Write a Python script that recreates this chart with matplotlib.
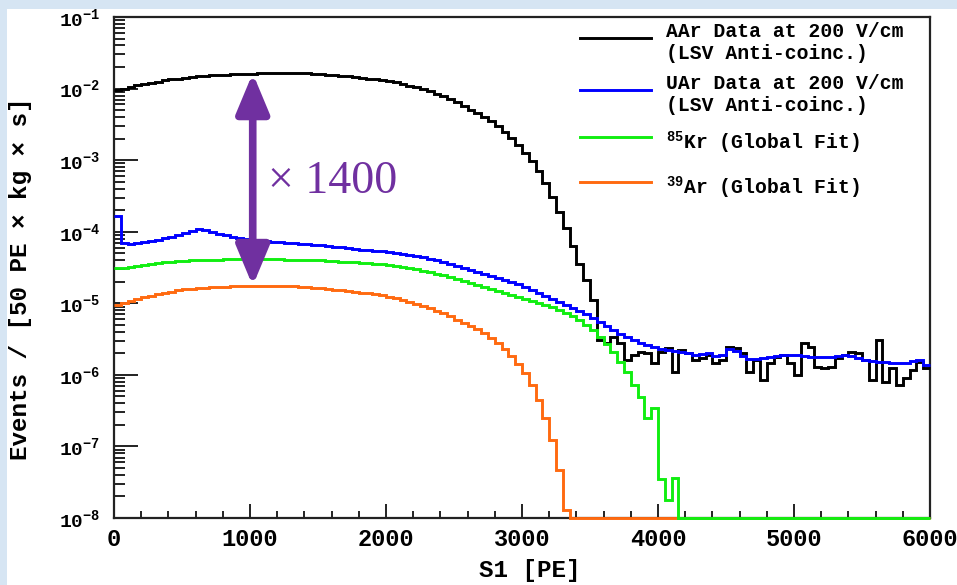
import numpy as np
import matplotlib
matplotlib.use("Agg")
import matplotlib.pyplot as plt
from matplotlib.ticker import MultipleLocator, FixedLocator, FuncFormatter, NullFormatter
from matplotlib.patches import Rectangle, FancyArrowPatch
from matplotlib.font_manager import FontProperties

# ---------------- data (events / [50 PE x kg x s], 50 PE bins from 0 to 6000) -------------
bin_edges_pe = np.arange(0, 6001, 50)

aar_data = [
    9.56e-3, 1.00e-2, 1.05e-2, 1.11e-2, 1.16e-2, 1.20e-2, 1.25e-2, 1.30e-2, 1.34e-2, 1.38e-2,
    1.42e-2, 1.45e-2, 1.49e-2, 1.51e-2, 1.54e-2, 1.56e-2, 1.57e-2, 1.58e-2, 1.60e-2, 1.61e-2,
    1.62e-2, 1.63e-2, 1.63e-2, 1.64e-2, 1.64e-2, 1.64e-2, 1.64e-2, 1.63e-2, 1.63e-2, 1.61e-2,
    1.59e-2, 1.56e-2, 1.54e-2, 1.51e-2, 1.48e-2, 1.45e-2, 1.42e-2, 1.38e-2, 1.35e-2, 1.31e-2,
    1.27e-2, 1.22e-2, 1.16e-2, 1.10e-2, 1.04e-2, 9.71e-3, 9.11e-3, 8.40e-3, 7.76e-3, 7.04e-3,
    6.39e-3, 5.71e-3, 5.10e-3, 4.56e-3, 4.01e-3, 3.47e-3, 2.96e-3, 2.48e-3, 2.04e-3, 1.63e-3,
    1.26e-3, 9.74e-4, 7.07e-4, 4.80e-4, 3.06e-4, 1.89e-4, 1.13e-4, 6.33e-5, 3.55e-5, 2.12e-5,
    1.12e-5, 3.08e-6, 2.80e-6, 3.40e-6, 2.80e-6, 1.62e-6, 1.90e-6, 2.10e-6, 2.03e-6, 1.47e-6,
    2.10e-6, 2.38e-6, 1.10e-6, 2.23e-6, 2.03e-6, 1.62e-6, 1.73e-6, 1.90e-6, 1.47e-6, 1.62e-6,
    2.46e-6, 2.38e-6, 2.03e-6, 1.10e-6, 1.62e-6, 8.51e-7, 1.47e-6, 1.78e-6, 1.90e-6, 1.47e-6,
    1.00e-6, 2.80e-6, 2.46e-6, 1.29e-6, 1.25e-6, 1.29e-6, 1.73e-6, 1.90e-6, 2.10e-6, 2.03e-6,
    1.62e-6, 8.51e-7, 3.08e-6, 7.98e-7, 1.25e-6, 7.25e-7, 9.08e-7, 1.17e-6, 1.52e-6, 1.25e-6,
]

uar_data = [
    1.66e-4, 6.98e-5, 6.76e-5, 6.98e-5, 7.20e-5, 7.44e-5, 7.68e-5, 8.06e-5, 8.46e-5, 9.02e-5,
    9.62e-5, 1.03e-4, 1.09e-4, 1.04e-4, 9.78e-5, 9.32e-5, 8.88e-5, 8.46e-5, 8.20e-5, 7.94e-5,
    7.68e-5, 7.44e-5, 7.32e-5, 7.20e-5, 7.09e-5, 6.98e-5, 6.87e-5, 6.76e-5, 6.65e-5, 6.54e-5,
    6.44e-5, 6.23e-5, 6.13e-5, 6.04e-5, 5.94e-5, 5.75e-5, 5.57e-5, 5.48e-5, 5.39e-5, 5.31e-5,
    5.14e-5, 5.06e-5, 4.90e-5, 4.74e-5, 4.59e-5, 4.38e-5, 4.17e-5, 3.97e-5, 3.79e-5, 3.55e-5,
    3.33e-5, 3.12e-5, 2.93e-5, 2.74e-5, 2.57e-5, 2.41e-5, 2.26e-5, 2.12e-5, 1.99e-5, 1.87e-5,
    1.69e-5, 1.54e-5, 1.40e-5, 1.27e-5, 1.15e-5, 1.05e-5, 9.50e-6, 8.63e-6, 7.83e-6, 7.11e-6,
    6.25e-6, 5.50e-6, 4.84e-6, 4.25e-6, 3.74e-6, 3.40e-6, 3.08e-6, 2.80e-6, 2.62e-6, 2.46e-6,
    2.31e-6, 2.23e-6, 2.16e-6, 2.10e-6, 2.03e-6, 1.90e-6, 1.96e-6, 2.03e-6, 1.84e-6, 1.90e-6,
    2.31e-6, 2.16e-6, 1.84e-6, 1.67e-6, 1.67e-6, 1.73e-6, 1.78e-6, 1.84e-6, 1.90e-6, 1.90e-6,
    1.90e-6, 1.84e-6, 1.78e-6, 1.78e-6, 1.78e-6, 1.78e-6, 1.84e-6, 1.90e-6, 1.84e-6, 1.73e-6,
    1.62e-6, 1.57e-6, 1.52e-6, 1.52e-6, 1.47e-6, 1.47e-6, 1.47e-6, 1.57e-6, 1.62e-6, 1.38e-6,
]

kr85_fit = [
    3.12e-5, 3.12e-5, 3.22e-5, 3.33e-5, 3.44e-5, 3.55e-5, 3.67e-5, 3.73e-5, 3.79e-5, 3.85e-5,
    3.91e-5, 3.97e-5, 4.04e-5, 4.04e-5, 4.04e-5, 4.04e-5, 4.10e-5, 4.10e-5, 4.10e-5, 4.10e-5,
    4.10e-5, 4.10e-5, 4.10e-5, 4.10e-5, 4.10e-5, 4.04e-5, 4.04e-5, 4.04e-5, 4.04e-5, 3.97e-5,
    3.97e-5, 3.91e-5, 3.85e-5, 3.79e-5, 3.79e-5, 3.73e-5, 3.67e-5, 3.61e-5, 3.55e-5, 3.49e-5,
    3.38e-5, 3.28e-5, 3.17e-5, 3.07e-5, 2.98e-5, 2.83e-5, 2.70e-5, 2.57e-5, 2.45e-5, 2.34e-5,
    2.19e-5, 2.06e-5, 1.93e-5, 1.81e-5, 1.69e-5, 1.59e-5, 1.49e-5, 1.40e-5, 1.31e-5, 1.23e-5,
    1.15e-5, 1.08e-5, 1.01e-5, 9.50e-6, 8.77e-6, 8.09e-6, 7.34e-6, 6.56e-6, 5.86e-6, 4.99e-6,
    4.25e-6, 3.40e-6, 2.71e-6, 2.10e-6, 1.52e-6, 1.10e-6, 7.25e-7, 4.93e-7, 2.51e-7, 3.46e-7,
    3.53e-8, 1.80e-8, 3.64e-8, 0, 0, 0, 0, 0, 0, 0,
    0, 0, 0, 0, 0, 0, 0, 0, 0, 0,
    0, 0, 0, 0, 0, 0, 0, 0, 0, 0,
    0, 0, 0, 0, 0, 0, 0, 0, 0, 0,
]

ar39_fit = [
    9.50e-6, 1.01e-5, 1.08e-5, 1.15e-5, 1.21e-5, 1.27e-5, 1.33e-5, 1.40e-5, 1.44e-5, 1.51e-5,
    1.56e-5, 1.59e-5, 1.61e-5, 1.64e-5, 1.67e-5, 1.69e-5, 1.69e-5, 1.72e-5, 1.75e-5, 1.75e-5,
    1.75e-5, 1.75e-5, 1.75e-5, 1.75e-5, 1.75e-5, 1.75e-5, 1.72e-5, 1.69e-5, 1.67e-5, 1.64e-5,
    1.61e-5, 1.59e-5, 1.54e-5, 1.51e-5, 1.49e-5, 1.44e-5, 1.40e-5, 1.38e-5, 1.33e-5, 1.29e-5,
    1.23e-5, 1.19e-5, 1.12e-5, 1.05e-5, 9.81e-6, 9.20e-6, 8.49e-6, 7.83e-6, 7.23e-6, 6.56e-6,
    5.86e-6, 5.32e-6, 4.84e-6, 4.39e-6, 3.86e-6, 3.29e-6, 2.80e-6, 2.31e-6, 1.84e-6, 1.42e-6,
    1.07e-6, 7.25e-7, 4.47e-7, 2.51e-7, 1.24e-7, 4.71e-8, 1.30e-8, 0, 0, 0,
    0, 0, 0, 0, 0, 0, 0, 0, 0, 0,
    0, 0, 0, 0, 0, 0, 0, 0, 0, 0,
    0, 0, 0, 0, 0, 0, 0, 0, 0, 0,
    0, 0, 0, 0, 0, 0, 0, 0, 0, 0,
    0, 0, 0, 0, 0, 0, 0, 0, 0, 0,
]

series_labels = [
    "AAr Data at 200 V/cm\n(LSV Anti-coinc.)",
    "UAr Data at 200 V/cm\n(LSV Anti-coinc.)",
    r"$^{85}$Kr (Global Fit)",
    r"$^{39}$Ar (Global Fit)",
]
series_colors = ["#000000", "#0000ff", "#11ee11", "#ff6a10"]

ratio_text = "\u00d7 1400"
arrow_pe = 1020
arrow_top = 1.64e-2
arrow_bottom = 1.75e-5

x_range = (0, 6000)
y_range = (1e-8, 1e-1)
y_decades = list(range(-8, 0))

# ---------------- style ----------------
mono = "Liberation Mono"
plt.rcParams["font.family"] = [mono, "DejaVu Sans"]
plt.rcParams["font.weight"] = "bold"
plt.rcParams["mathtext.fontset"] = "custom"
for k in ("rm", "it", "bf", "sf", "tt"):
    plt.rcParams["mathtext." + k] = mono + ":bold"

W, H = 957, 585
fig = plt.figure(figsize=(W / 100, H / 100), dpi=100)
fig.patch.set_facecolor("#d6e5f3")
fig.add_artist(Rectangle((7 / W, 0), 1, 1 - 9 / H, transform=fig.transFigure,
                         facecolor="white", edgecolor="none", zorder=-10))

ax = fig.add_axes([114 / W, 1 - 518 / H, (930 - 114) / W, (518 - 17) / H])
ax.set_yscale("log")
ax.set_xlim(*x_range)
ax.set_ylim(*y_range)

series = [aar_data, uar_data, kr85_fit, ar39_fit]
zorders = [3, 6, 5, 4]
for vals, col, lab, zo in zip(series, series_colors, series_labels, zorders):
    v = np.asarray(vals, dtype=float)
    v = np.where(v > 0, v, y_range[0])
    ax.stairs(v, bin_edges_pe, baseline=None, color=col, lw=2.1,
              label=lab, zorder=zo, clip_on=False)

# axes styling (ROOT-like)
for s in ax.spines.values():
    s.set_linewidth(1.6)
    s.set_color("#222222")
ax.xaxis.set_major_locator(MultipleLocator(1000))
ax.xaxis.set_minor_locator(MultipleLocator(200))
ax.yaxis.set_major_locator(FixedLocator([10.0 ** d for d in y_decades]))
ax.yaxis.set_minor_locator(FixedLocator(
    [m * 10.0 ** d for d in y_decades[:-1] for m in range(2, 10)]))
ax.yaxis.set_minor_formatter(NullFormatter())
ax.yaxis.set_major_formatter(FuncFormatter(
    lambda v, p: r"$\mathbf{10^{%d}}$" % int(round(np.log10(v)))))
ax.tick_params(axis="both", which="both", direction="in", top=False, right=False,
               width=1.4, color="#222222")
ax.tick_params(axis="x", which="major", length=10, pad=7, labelsize=17)
ax.tick_params(axis="x", which="minor", length=5)
ax.tick_params(axis="y", which="major", length=17, pad=10, labelsize=14)
ax.tick_params(axis="y", which="minor", length=8)
for t in ax.get_xticklabels() + ax.get_yticklabels():
    t.set_fontweight("bold")

fig.text(530 / W, 1 - 570 / H, "S1 [PE]", ha="center", va="center",
         fontsize=17.5, fontweight="bold")
fig.text(21 / W, 1 - 279 / H, "Events / [50 PE \u00d7 kg \u00d7 s]", ha="center",
         va="center", rotation=90, fontsize=17.5, fontweight="bold")

# legend
leg = ax.legend(handles=[plt.Line2D([], [], color=c, lw=2.1) for c in series_colors],
                labels=series_labels, frameon=False, loc="upper left",
                bbox_to_anchor=(580 / W, 1 - 22 / H), bbox_transform=fig.transFigure,
                prop=FontProperties(family=mono, weight="bold", size=14.2),
                handlelength=3.6, handletextpad=0.75, handleheight=2.3,
                labelspacing=0.55, borderpad=0, borderaxespad=0)
for t in leg.get_texts():
    t.set_linespacing(1.2)

# "x 1400" annotation
purple = "#7030a0"
arr = FancyArrowPatch((arrow_pe, arrow_bottom), (arrow_pe, arrow_top),
                      arrowstyle="<|-|>,head_length=0.6,head_width=0.25",
                      mutation_scale=40, lw=5.5, color=purple,
                      shrinkA=0, shrinkB=0, zorder=8)
ax.add_patch(arr)
ax.text(1130, 5.0e-4, ratio_text, color=purple, fontsize=33,
        family="Liberation Serif", fontweight="normal", ha="left", va="center", zorder=8)

fig.savefig("out.png", dpi=100, facecolor=fig.get_facecolor())
